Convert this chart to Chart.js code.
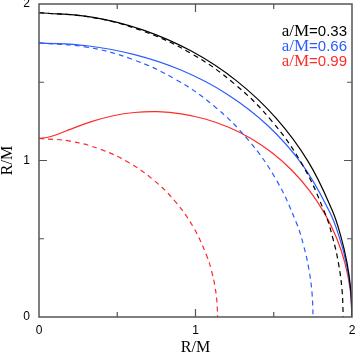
<!DOCTYPE html>
<html><head><meta charset="utf-8">
<script src="https://cdn.jsdelivr.net/npm/chart.js@4.4.1/dist/chart.umd.min.js"></script>
<style>html,body{margin:0;padding:0;background:#fff}#c{display:block}</style>
</head><body>
<canvas id="c" width="355" height="356"></canvas>
<script>
// ---- data ----
const spinLabels = ["0.33", "0.66", "0.99"];
const xTickValues = [0, 1, 2];
const xTickLabels = ["0", "1", "2"];
const yTickValues = [0, 1, 2];
const yTickLabels = ["0", "1", "2"];
const minorTickValues = [0.5, 1, 1.5];

// a/M = 0.33
const solid033X = [0, 0.3379, 0.6672, 0.9792, 1.2647, 1.5146, 1.7202, 1.8734, 1.9283, 1.9680, 1.9920, 2];
const solid033Y = [1.9440, 1.9162, 1.8331, 1.6959, 1.5072, 1.2710, 0.9932, 0.6819, 0.5167, 0.3470, 0.1743, 0];
const dashed033X = [0, 0.3376, 0.6649, 0.9720, 1.2496, 1.4892, 1.6836, 1.8268, 1.8778, 1.9145, 1.9366, 1.9440];
const dashed033Y = [1.9440, 1.9145, 1.8268, 1.6836, 1.4892, 1.2496, 0.9720, 0.6649, 0.5031, 0.3376, 0.1694, 0];
// a/M = 0.66
const solid066X = [0, 0.3056, 0.6103, 0.9103, 1.1974, 1.4597, 1.6835, 1.8551, 1.9177, 1.9631, 1.9907, 2];
const solid066Y = [1.7513, 1.7332, 1.6768, 1.5767, 1.4270, 1.2249, 0.9720, 0.6752, 0.5138, 0.3462, 0.1742, 0];
const dashed066X = [0, 0.3041, 0.5990, 0.8757, 1.1257, 1.3416, 1.5167, 1.6457, 1.6916, 1.7247, 1.7446, 1.7513];
const dashed066Y = [1.7513, 1.7247, 1.6457, 1.5167, 1.3416, 1.1257, 0.8757, 0.5990, 0.4533, 0.3041, 0.1526, 0];
// a/M = 0.99
const solid099X = [0, 0.0501, 0.1016, 0.2123, 0.3346, 0.4675, 0.6093, 0.7574, 0.9092, 1.0618, 1.2121, 1.3570, 1.4935, 1.6185, 1.7295, 1.8239, 1.8996, 1.9550, 1.9887, 2];
const solid099Y = [1.1411, 1.1468, 1.1612, 1.2040, 1.2486, 1.2845, 1.3066, 1.3118, 1.2985, 1.2654, 1.2121, 1.1386, 1.0457, 0.9345, 0.8065, 0.6638, 0.5090, 0.3447, 0.1740, 0];
const dashed099X = [0, 0.1982, 0.3903, 0.5706, 0.7335, 0.8741, 0.9882, 1.0723, 1.1022, 1.1238, 1.1368, 1.1411];
const dashed099Y = [1.1411, 1.1238, 1.0723, 0.9882, 0.8741, 0.7335, 0.5706, 0.3903, 0.2953, 0.1982, 0.0995, 0];

// ---- styles ----
const COLORS = ["#000000", "#2b5bff", "#ff2a2a"];
const pts = (xs, ys) => xs.map((x, i) => ({x, y: ys[i]}));
function ds(xs, ys, color, dashed) {
  return {
    data: pts(xs, ys), showLine: true, borderColor: color, backgroundColor: color,
    borderWidth: 1.2, pointRadius: 0, pointHoverRadius: 0, tension: 0.4,
    borderDash: dashed ? [5, 4] : [], fill: false
  };
}

const decor = {
  id: 'decor',
  afterDraw(chart) {
    const {ctx, chartArea: a, scales: {x, y}} = chart;
    ctx.save();
    ctx.strokeStyle = '#555';
    ctx.lineWidth = 1.5;
    ctx.setLineDash([]);
    ctx.strokeRect(a.left, a.top, a.right - a.left, a.bottom - a.top);
    ctx.lineWidth = 1.2;
    for (const v of minorTickValues) {
      const len = Number.isInteger(v) ? 8 : 5;
      const px = x.getPixelForValue(v), py = y.getPixelForValue(v);
      ctx.beginPath();
      ctx.moveTo(px, a.bottom); ctx.lineTo(px, a.bottom - len);
      ctx.moveTo(px, a.top); ctx.lineTo(px, a.top + len);
      ctx.moveTo(a.left, py); ctx.lineTo(a.left + len, py);
      ctx.moveTo(a.right, py); ctx.lineTo(a.right - len, py);
      ctx.stroke();
    }
    // legend text
    ctx.textBaseline = 'middle';
    ctx.textAlign = 'right';
    spinLabels.forEach((s, i) => {
      const yy = a.top + 28 + i * 15;
      const right = a.right - 5;
      const tail = '=' + s;
      ctx.fillStyle = COLORS[i];
      ctx.font = '15px "Liberation Sans"';
      const w = ctx.measureText(tail).width;
      ctx.fillText(tail, right, yy);
      ctx.font = '17px "Liberation Serif"';
      ctx.fillText('a/M', right - w, yy);
    });
    ctx.restore();
  }
};

new Chart(document.getElementById('c'), {
  type: 'scatter',
  data: {
    datasets: [
      ds(solid033X, solid033Y, COLORS[0], false),
      ds(dashed033X, dashed033Y, COLORS[0], true),
      ds(solid066X, solid066Y, COLORS[1], false),
      ds(dashed066X, dashed066Y, COLORS[1], true),
      ds(solid099X, solid099Y, COLORS[2], false),
      ds(dashed099X, dashed099Y, COLORS[2], true)
    ]
  },
  options: {
    responsive: false, animation: false, devicePixelRatio: 1,
    layout: {padding: {top: 4, right: 3, left: 0, bottom: 0}},
    plugins: {legend: {display: false}, tooltip: {enabled: false}},
    scales: {
      x: {
        type: 'linear', min: 0, max: 2,
        afterBuildTicks: s => { s.ticks = xTickValues.map(v => ({value: v})); },
        ticks: {font: {family: 'Liberation Sans', size: 12}, color: '#000', padding: 6,
                maxRotation: 0, autoSkip: false, callback: (v, i) => xTickLabels[i]},
        grid: {display: false, drawTicks: false}, border: {display: false},
        title: {display: true, text: 'R/M', color: '#000',
                font: {family: 'Liberation Serif', size: 16, lineHeight: 1}, padding: {top: 0, bottom: 0}},
        afterFit: s => { s.height = 39; s.paddingLeft = 0; s.paddingRight = 0; }
      },
      y: {
        type: 'linear', min: 0, max: 2,
        afterBuildTicks: s => { s.ticks = yTickValues.map(v => ({value: v})); },
        ticks: {font: {family: 'Liberation Sans', size: 12}, color: '#000', padding: 9,
                autoSkip: false, callback: (v, i) => yTickLabels[i]},
        grid: {display: false, drawTicks: false}, border: {display: false},
        title: {display: true, text: 'R/M', color: '#000',
                font: {family: 'Liberation Serif', size: 16, lineHeight: 1}, padding: {top: 0, bottom: 0}},
        afterFit: s => { s.width = 39; s.paddingTop = 0; s.paddingBottom = 0; }
      }
    }
  },
  plugins: [decor]
});
</script>
</body></html>
